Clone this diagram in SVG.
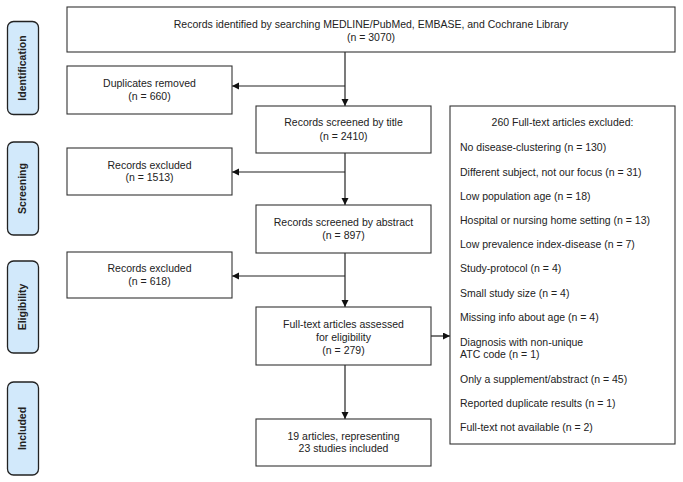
<svg xmlns="http://www.w3.org/2000/svg" width="683" height="482" viewBox="0 0 683 482">
<defs>
<style>
.box{fill:#fff;stroke:#333;stroke-width:1.1}
.phase{fill:#d2e9fb;stroke:#222;stroke-width:1.3}
.t{font-family:"Liberation Sans",Arial,sans-serif;font-size:10.5px;fill:#222}
.c{text-anchor:middle}
.p{font-family:"Liberation Sans",Arial,sans-serif;font-size:10.5px;font-weight:bold;fill:#222;text-anchor:middle}
.ln{stroke:#222;stroke-width:1.2;fill:none}
</style>
<marker id="ah" markerWidth="8" markerHeight="8" refX="7" refY="3.5" orient="auto" markerUnits="userSpaceOnUse">
<path d="M0,0 L7,3.5 L0,7 Z" fill="#111"/>
</marker>
</defs>
<rect width="683" height="482" fill="#fff"/>

<g id="phase-identification"><rect class="phase" x="7.5" y="21.5" width="31" height="93" rx="6"/><text class="p" transform="translate(26,68) rotate(-90)">Identification</text></g>
<g id="phase-screening"><rect class="phase" x="7.5" y="142" width="31" height="93" rx="6"/><text class="p" transform="translate(26,188.5) rotate(-90)">Screening</text></g>
<g id="phase-eligibility"><rect class="phase" x="7.5" y="261" width="31" height="92" rx="6"/><text class="p" transform="translate(26,307) rotate(-90)">Eligibility</text></g>
<g id="phase-included"><rect class="phase" x="7.5" y="382" width="31" height="93" rx="6"/><text class="p" transform="translate(26,428.5) rotate(-90)">Included</text></g>

<g id="connectors">
<line class="ln" x1="345" y1="52" x2="345" y2="106" marker-end="url(#ah)"/>
<line class="ln" x1="345" y1="86" x2="232" y2="86" marker-end="url(#ah)"/>
<line class="ln" x1="345" y1="153" x2="345" y2="205" marker-end="url(#ah)"/>
<line class="ln" x1="345" y1="172" x2="232" y2="172" marker-end="url(#ah)"/>
<line class="ln" x1="345" y1="253" x2="345" y2="307" marker-end="url(#ah)"/>
<line class="ln" x1="345" y1="276" x2="232" y2="276" marker-end="url(#ah)"/>
<line class="ln" x1="431" y1="336" x2="450" y2="336" marker-end="url(#ah)"/>
<line class="ln" x1="345" y1="365" x2="345" y2="419" marker-end="url(#ah)"/>
</g>

<g id="records-identified"><rect class="box" x="67" y="7" width="608" height="45"/>
<text class="t c" x="371" y="27.7">Records identified by searching MEDLINE/PubMed, EMBASE, and Cochrane Library</text>
<text class="t c" x="371" y="40.7">(n = 3070)</text></g>

<g id="duplicates"><rect class="box" x="67" y="66" width="165" height="48"/>
<text class="t c" x="149.5" y="86.7">Duplicates removed</text>
<text class="t c" x="149.5" y="99.7">(n = 660)</text></g>

<g id="screened-title"><rect class="box" x="256" y="106" width="175" height="47"/>
<text class="t c" x="343.5" y="125.7">Records screened by title</text>
<text class="t c" x="343.5" y="139.7">(n = 2410)</text></g>

<g id="excluded-1513"><rect class="box" x="67" y="148" width="165" height="47"/>
<text class="t c" x="149.5" y="168.7">Records excluded</text>
<text class="t c" x="149.5" y="180.7">(n = 1513)</text></g>

<g id="screened-abstract"><rect class="box" x="256" y="205" width="175" height="48"/>
<text class="t c" x="343.5" y="225.7">Records screened by abstract</text>
<text class="t c" x="343.5" y="238.7">(n = 897)</text></g>

<g id="excluded-618"><rect class="box" x="67" y="252" width="165" height="46"/>
<text class="t c" x="149.5" y="271.7">Records excluded</text>
<text class="t c" x="149.5" y="284.7">(n = 618)</text></g>

<g id="fulltext-assessed"><rect class="box" x="256" y="307" width="175" height="58"/>
<text class="t c" x="343.5" y="327.7">Full-text articles assessed</text>
<text class="t c" x="343.5" y="340.7">for eligibility</text>
<text class="t c" x="343.5" y="353.7">(n = 279)</text></g>

<g id="included"><rect class="box" x="256" y="419" width="175" height="47"/>
<text class="t c" x="343.5" y="439.7">19 articles, representing</text>
<text class="t c" x="343.5" y="451.7">23 studies included</text></g>

<g id="fulltext-excluded"><rect class="box" x="450" y="106" width="225" height="338"/>
<text class="t c" x="562.5" y="125.7">260 Full-text articles excluded:</text>
<text class="t" x="460" y="150.7">No disease-clustering (n = 130)</text>
<text class="t" x="460" y="175.7">Different subject, not our focus (n = 31)</text>
<text class="t" x="460" y="199.7">Low population age (n = 18)</text>
<text class="t" x="460" y="223.7">Hospital or nursing home setting (n = 13)</text>
<text class="t" x="460" y="247.7">Low prevalence index-disease (n = 7)</text>
<text class="t" x="460" y="271.7">Study-protocol (n = 4)</text>
<text class="t" x="460" y="296.7">Small study size (n = 4)</text>
<text class="t" x="460" y="320.7">Missing info about age (n = 4)</text>
<text class="t" x="460" y="345.7">Diagnosis with non-unique</text>
<text class="t" x="460" y="357.7">ATC code (n = 1)</text>
<text class="t" x="460" y="382.7">Only a supplement/abstract (n = 45)</text>
<text class="t" x="460" y="406.7">Reported duplicate results (n = 1)</text>
<text class="t" x="460" y="430.7">Full-text not available (n = 2)</text>
</g>
</svg>
